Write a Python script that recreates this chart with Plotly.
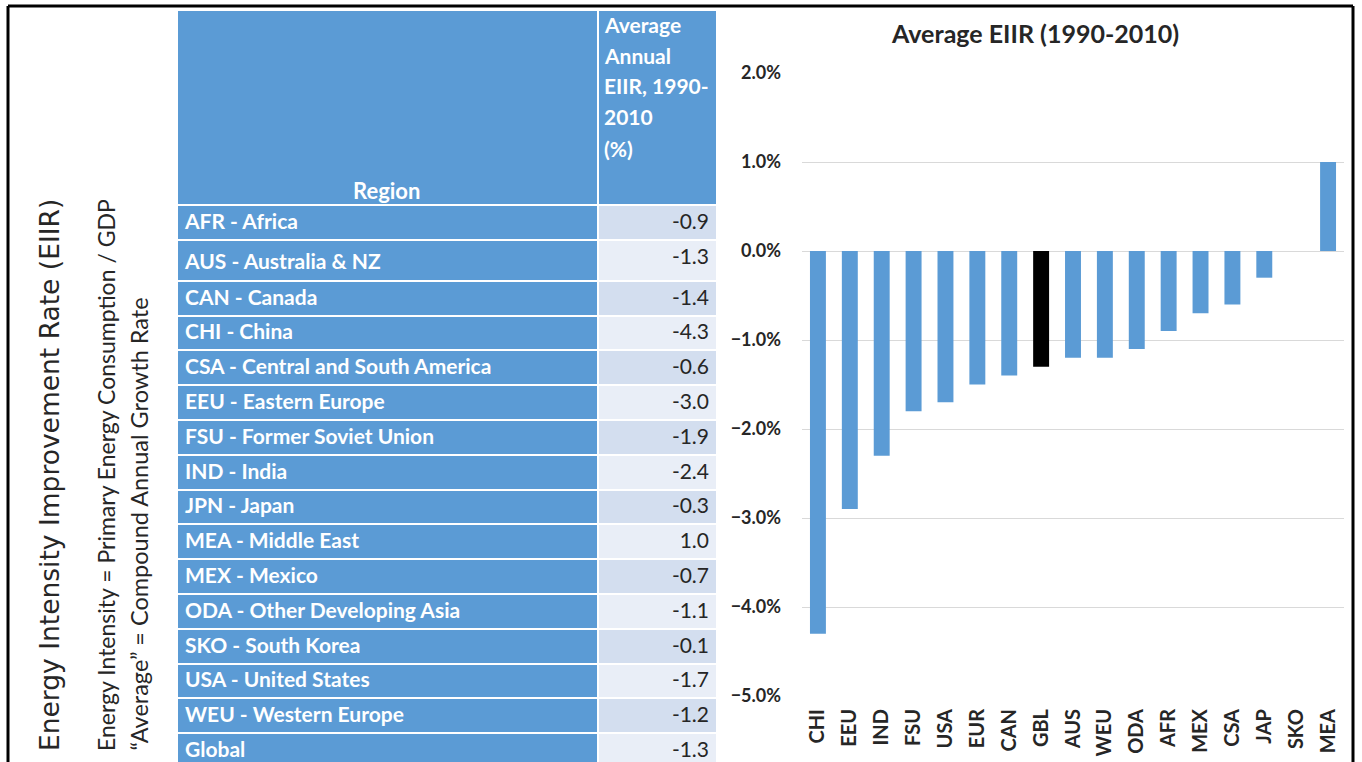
import plotly.graph_objects as go

# ---------------- data ----------------
regions = ["AFR - Africa", "AUS - Australia & NZ", "CAN - Canada", "CHI - China",
           "CSA - Central and South America", "EEU - Eastern Europe",
           "FSU - Former Soviet Union", "IND - India", "JPN - Japan",
           "MEA - Middle East", "MEX - Mexico", "ODA - Other Developing Asia",
           "SKO - South Korea", "USA - United States", "WEU - Western Europe", "Global"]
table_values = [-0.9, -1.3, -1.4, -4.3, -0.6, -3.0, -1.9, -2.4, -0.3, 1.0,
                -0.7, -1.1, -0.1, -1.7, -1.2, -1.3]

bar_codes = ["CHI", "EEU", "IND", "FSU", "USA", "EUR", "CAN", "GBL", "AUS",
             "WEU", "ODA", "AFR", "MEX", "CSA", "JAP", "SKO", "MEA"]
bar_values = [-4.3, -2.9, -2.3, -1.8, -1.7, -1.5, -1.4, -1.3, -1.2,
              -1.2, -1.1, -0.9, -0.7, -0.6, -0.3, 0.0, 1.0]
highlight_code = "GBL"

header_region = "Region"
header_value_lines = ["Average", "Annual", "EIIR, 1990-", "2010", "(%)"]
chart_title = "Average EIIR (1990-2010)"
side_title = "Energy Intensity Improvement Rate (EIIR)"
side_note_1 = "Energy Intensity = Primary Energy Consumption / GDP"
side_note_2 = "\u201cAverage\u201d = Compound Annual Growth Rate"

# ---------------- styling ----------------
W, H = 1362, 762
BLUE = "#5B9BD5"
DARK = "#262626"
ROW_DARK = "#D3DEEF"
ROW_LIGHT = "#E9EEF7"
FONT = "Lato"


def px(x):
    return x / W


def py(y):
    return (H - y) / H


fig = go.Figure()

# table
value_fills = [ROW_DARK if i % 2 == 0 else ROW_LIGHT for i in range(len(regions))]
fig.add_trace(go.Table(
    domain=dict(x=[px(177), px(717)], y=[0, py(10)]),
    columnwidth=[421, 119],
    header=dict(values=["", ""], height=195,
                fill_color=BLUE, line=dict(color="white", width=2)),
    cells=dict(
        values=[regions, [f"{v:.1f}" for v in table_values]],
        height=34.8,
        align=["left", "right"],
        fill_color=[[BLUE] * len(regions), value_fills],
        line=dict(color="white", width=2),
        font=dict(family=FONT, size=[21, 21], color=["white", DARK],
                  weight=["bold", "normal"]),
    ),
))

# bars
fig.add_trace(go.Bar(
    x=bar_codes, y=bar_values,
    marker=dict(color=["black" if c == highlight_code else BLUE for c in bar_codes],
                line=dict(width=0)),
    width=0.5,
    xaxis="x", yaxis="y", showlegend=False,
))

annotations = []
# header labels
annotations.append(dict(text="<b>" + header_region + "</b>", x=px(386), y=py(190),
                        xref="paper", yref="paper", showarrow=False,
                        font=dict(family=FONT, size=22, color="white"),
                        xanchor="center", yanchor="middle"))
for i, line in enumerate(header_value_lines):
    annotations.append(dict(text="<b>" + line + "</b>", x=px(602), y=py(24 + 31 * i),
                            xref="paper", yref="paper", showarrow=False,
                            font=dict(family=FONT, size=21, color="white"),
                            xanchor="left", yanchor="middle"))
# chart title
annotations.append(dict(text="<b>" + chart_title + "</b>", x=px(1035), y=py(33),
                        xref="paper", yref="paper", showarrow=False,
                        font=dict(family=FONT, size=25, color=DARK),
                        xanchor="center", yanchor="middle"))
# side texts
annotations.append(dict(text=side_title, x=px(49), y=py(753), textangle=-90,
                        xref="paper", yref="paper", showarrow=False,
                        font=dict(family="DejaVu Sans", size=26.5, color=DARK),
                        xanchor="center", yanchor="bottom"))
annotations.append(dict(text=side_note_1, x=px(106), y=py(753), textangle=-90,
                        xref="paper", yref="paper", showarrow=False,
                        font=dict(family=FONT, size=23, color=DARK),
                        xanchor="center", yanchor="bottom"))
annotations.append(dict(text=side_note_2, x=px(138), y=py(753), textangle=-90,
                        xref="paper", yref="paper", showarrow=False,
                        font=dict(family=FONT, size=23.5, color=DARK),
                        xanchor="center", yanchor="bottom"))

shapes = [
    dict(type="line", xref="paper", yref="paper", x0=px(8), x1=px(8), y0=-0.05, y1=py(6),
         line=dict(color="black", width=3)),
    dict(type="line", xref="paper", yref="paper", x0=px(8), x1=px(1353), y0=py(6), y1=py(6),
         line=dict(color="black", width=3)),
    dict(type="line", xref="paper", yref="paper", x0=px(1353), x1=px(1353), y0=-0.05, y1=py(6),
         line=dict(color="black", width=3)),
]

fig.update_layout(
    width=W, height=H,
    margin=dict(l=0, r=0, t=0, b=0, pad=0, autoexpand=False),
    paper_bgcolor="white", plot_bgcolor="white",
    font=dict(family=FONT, color=DARK),
    xaxis=dict(domain=[px(802), px(1344)], tickangle=-90, automargin=False,
               tickfont=dict(family=FONT, size=20, color=DARK, weight="bold"),
               showline=False, showgrid=False, ticks="", type="category",
               ticklabelstandoff=8),
    yaxis=dict(domain=[py(696), py(73)], range=[-5, 2], dtick=1, automargin=False,
               tickformat=".1f", ticksuffix="%",
               tickfont=dict(family=FONT, size=18, color=DARK, weight="bold"),
               showgrid=True, gridcolor="#D9D9D9", gridwidth=1,
               zeroline=False, showline=False, ticks="", ticklabelstandoff=20),
    annotations=annotations,
    shapes=shapes,
    bargap=0.5,
)

fig.write_html("out.html",
               config={"displayModeBar": False},
               post_script="document.body.style.margin='0';document.body.style.overflow='hidden';")
